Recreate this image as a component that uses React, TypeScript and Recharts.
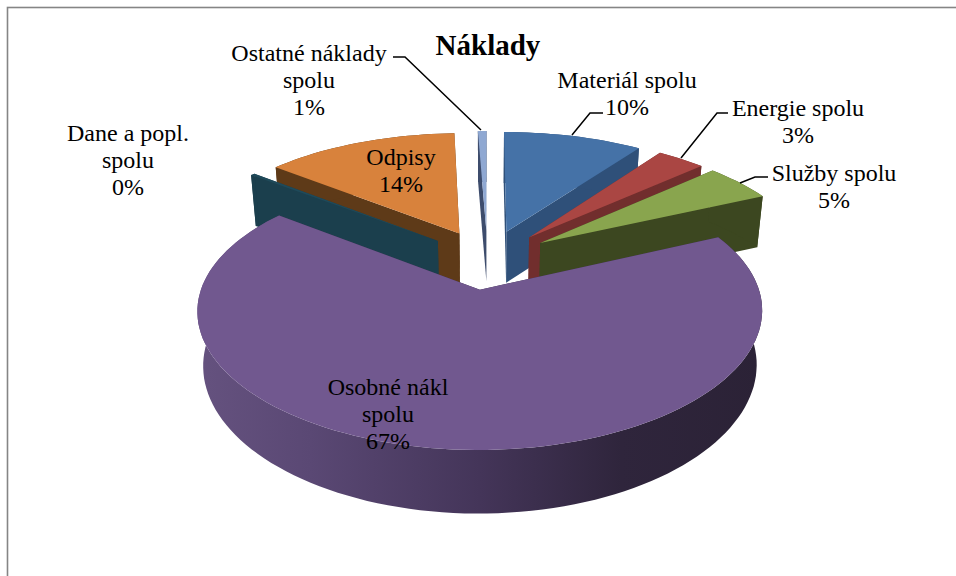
import React from "react";
import { PieChart, Pie } from "recharts";

const categories = [
  "Dane a popl. spolu",
  "Odpisy",
  "Ostatné náklady spolu",
  "Materiál spolu",
  "Energie spolu",
  "Služby spolu",
  "Osobné nákl spolu",
];
const shares = [0.3, 13.6, 0.6, 9.8, 3.4, 4.9, 67.3];
const pieRows = categories.map((name, i) => ({ name, value: shares[i] }));

const topColors: Record<string, string> = {
  "Dane a popl. spolu": "#1f4a5a",
  Odpisy: "#d8823c",
  "Ostatné náklady spolu": "#8fa8d2",
  "Materiál spolu": "#4572a7",
  "Energie spolu": "#aa4643",
  "Služby spolu": "#89a54e",
  "Osobné nákl spolu": "#71588f",
};
const wallColors: Record<string, string> = {
  "Dane a popl. spolu": "#1b3f4d",
  Odpisy: "#5e3a18",
  "Ostatné náklady spolu": "#3d4c6c",
  "Materiál spolu": "#2f5079",
  "Energie spolu": "#712e2d",
  "Služby spolu": "#3c4720",
  "Osobné nákl spolu": "url(#osobneWall)",
};

// text blocks and leader lines, by category
const labelLayout: Record<string, { x: number; y: number; lines: string[]; leader?: string }> = {
  "Dane a popl. spolu": { x: 128, y: 141, lines: ["Dane a popl.", "spolu"] },
  Odpisy: { x: 401, y: 165, lines: ["Odpisy"] },
  "Ostatné náklady spolu": {
    x: 309,
    y: 61,
    lines: ["Ostatné náklady", "spolu"],
    leader: "393,57 405,57 481,130",
  },
  "Materiál spolu": { x: 627, y: 88, lines: ["Materiál spolu"], leader: "603,113 590,113 572,135" },
  "Energie spolu": { x: 798, y: 116, lines: ["Energie spolu"], leader: "728,113 717,113 681,158" },
  "Služby spolu": { x: 834, y: 181, lines: ["Služby spolu"], leader: "768,177 755,177 740,183" },
  "Osobné nákl spolu": { x: 388, y: 395, lines: ["Osobné nákl", "spolu"] },
};

const FONT = "'Liberation Serif', 'Times New Roman', serif";
const TILT = 0.4596;
const PERSPECTIVE = 0.16;
const PERSPECTIVE_X = 0.15;
const EXPLODE = 0.24;
const DEPTH = 51;
const BOTTOM_SHRINK = 0.98;

// the library gives angles and radius, this turns them into the tilted 3D look
const renderSlice = (p: any, only?: string, skip?: string) => {
  if ((only && p.name !== only) || (skip && p.name === skip)) return <g />;
  const { cx, cy, outerRadius: R } = p;
  const rad = (a: number) => ((90 - a) * Math.PI) / 180;
  const mid = rad(p.midAngle ?? (p.startAngle + p.endAngle) / 2);
  const offU = EXPLODE * Math.sin(mid);
  const offV = -EXPLODE * Math.cos(mid);

  const project = (u: number, v: number, low: boolean) => {
    let x = cx + (R * u) / (1 - PERSPECTIVE_X * v);
    let y = cy + (R * TILT * v) / (1 - PERSPECTIVE * v);
    if (low) {
      x = cx + (x - cx) * BOTTOM_SHRINK;
      y += DEPTH / (1 - PERSPECTIVE * Math.max(v, 0));
    }
    return `${x.toFixed(1)},${y.toFixed(1)}`;
  };
  const rim = (a: number, low: boolean) => {
    const t = rad(a);
    return project(offU + Math.sin(t), offV - Math.cos(t), low);
  };

  const steps = Math.max(2, Math.ceil(Math.abs(p.endAngle - p.startAngle) / 2));
  const angles: number[] = [];
  for (let i = 0; i <= steps; i++) {
    angles.push(p.startAngle + ((p.endAngle - p.startAngle) * i) / steps);
  }
  const apexTop = project(offU, offV, false);
  const apexLow = project(offU, offV, true);
  const wall = wallColors[p.name];
  const side = wall.startsWith("url") ? "#3a2e4c" : wall;

  return (
    <g>
      <defs>
        <linearGradient id="osobneWall" x1="0" y1="0" x2="1" y2="0">
          <stop offset="0" stopColor="#65527f" />
          <stop offset="0.2" stopColor="#5a4874" />
          <stop offset="0.5" stopColor="#443559" />
          <stop offset="0.75" stopColor="#2f253c" />
          <stop offset="1" stopColor="#2b2236" />
        </linearGradient>
      </defs>
      <polygon
        points={`${apexTop} ${rim(p.startAngle, false)} ${rim(p.startAngle, true)} ${apexLow}`}
        fill={side}
      />
      <polygon
        points={`${apexTop} ${rim(p.endAngle, false)} ${rim(p.endAngle, true)} ${apexLow}`}
        fill={side}
      />
      <polygon
        points={[
          ...angles.map((a) => rim(a, false)),
          ...angles.slice().reverse().map((a) => rim(a, true)),
        ].join(" ")}
        fill={wall}
      />
      <polygon points={[apexTop, ...angles.map((a) => rim(a, false))].join(" ")} fill={topColors[p.name]} />
    </g>
  );
};

const renderLabel = (p: any) => {
  const l = labelLayout[p.name];
  const lines = [...l.lines, `${Math.round(p.percent * 100)}%`];
  return (
    <g key={p.name}>
      {l.leader && <polyline points={l.leader} fill="none" stroke="#000" strokeWidth={1.5} />}
      <text x={l.x} y={l.y} textAnchor="middle" fontFamily={FONT} fontSize={24} fill="#000">
        {lines.map((t, i) => (
          <tspan key={i} x={l.x} dy={i === 0 ? 0 : 27}>
            {t}
          </tspan>
        ))}
      </text>
    </g>
  );
};

export default function App() {
  return (
    <div style={{ position: "fixed", left: 0, top: 0, width: 956, height: 576, background: "#fff" }}>
      <PieChart width={956} height={576} margin={{ top: 0, right: 0, bottom: 0, left: 0 }}>
        <rect x={7.5} y={7.5} width={1000} height={1000} fill="none" stroke="#858585" strokeWidth={1.6} />
        {/* Odpisy goes first so the Dane wall sits over it */}
        <Pie
          data={pieRows}
          dataKey="value"
          nameKey="name"
          cx={487.5}
          cy={259}
          outerRadius={269}
          startAngle={-217.75}
          endAngle={-577.75}
          stroke="none"
          isAnimationActive={false}
          shape={(p: any) => renderSlice(p, "Odpisy")}
        />
        <Pie
          data={pieRows}
          dataKey="value"
          nameKey="name"
          cx={487.5}
          cy={259}
          outerRadius={269}
          startAngle={-217.75}
          endAngle={-577.75}
          stroke="none"
          isAnimationActive={false}
          shape={(p: any) => renderSlice(p, undefined, "Odpisy")}
          label={renderLabel}
          labelLine={false}
        />
        <text x={488} y={55} textAnchor="middle" fontFamily={FONT} fontSize={29} fontWeight="bold" fill="#000">
          Náklady
        </text>
      </PieChart>
    </div>
  );
}
